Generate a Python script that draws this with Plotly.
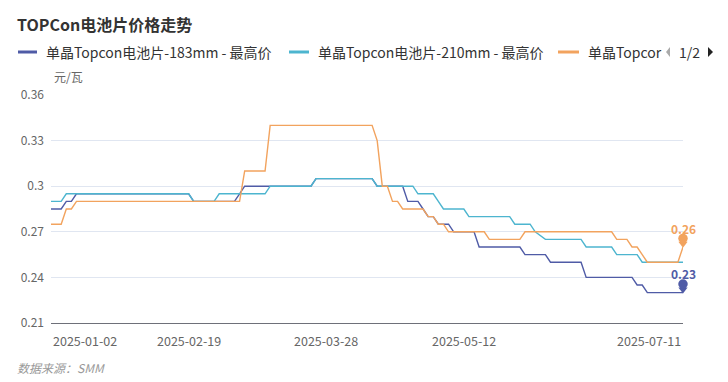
import plotly.graph_objects as go

# ---------------- data ----------------
dates = [
    "2025-01-02", "2025-01-03", "2025-01-06", "2025-01-07", "2025-01-08", "2025-01-09", "2025-01-10", "2025-01-13", "2025-01-14", "2025-01-15",
    "2025-01-16", "2025-01-17", "2025-01-20", "2025-01-21", "2025-01-22", "2025-01-23", "2025-01-24", "2025-02-05", "2025-02-06", "2025-02-07",
    "2025-02-10", "2025-02-11", "2025-02-12", "2025-02-13", "2025-02-14", "2025-02-17", "2025-02-18", "2025-02-19", "2025-02-20", "2025-02-21",
    "2025-02-24", "2025-02-25", "2025-02-26", "2025-02-27", "2025-02-28", "2025-03-03", "2025-03-04", "2025-03-05", "2025-03-06", "2025-03-07",
    "2025-03-10", "2025-03-11", "2025-03-12", "2025-03-13", "2025-03-14", "2025-03-17", "2025-03-18", "2025-03-19", "2025-03-20", "2025-03-21",
    "2025-03-24", "2025-03-25", "2025-03-26", "2025-03-27", "2025-03-28", "2025-03-31", "2025-04-01", "2025-04-02", "2025-04-03", "2025-04-07",
    "2025-04-08", "2025-04-09", "2025-04-10", "2025-04-11", "2025-04-14", "2025-04-15", "2025-04-16", "2025-04-17", "2025-04-18", "2025-04-21",
    "2025-04-22", "2025-04-23", "2025-04-24", "2025-04-25", "2025-04-28", "2025-04-29", "2025-04-30", "2025-05-06", "2025-05-07", "2025-05-08",
    "2025-05-09", "2025-05-12", "2025-05-13", "2025-05-14", "2025-05-15", "2025-05-16", "2025-05-19", "2025-05-20", "2025-05-21", "2025-05-22",
    "2025-05-23", "2025-05-26", "2025-05-27", "2025-05-28", "2025-05-29", "2025-05-30", "2025-06-03", "2025-06-04", "2025-06-05", "2025-06-06",
    "2025-06-09", "2025-06-10", "2025-06-11", "2025-06-12", "2025-06-13", "2025-06-16", "2025-06-17", "2025-06-18", "2025-06-19", "2025-06-20",
    "2025-06-23", "2025-06-24", "2025-06-25", "2025-06-26", "2025-06-27", "2025-06-30", "2025-07-01", "2025-07-02", "2025-07-03", "2025-07-04",
    "2025-07-07", "2025-07-08", "2025-07-09", "2025-07-10", "2025-07-11",
]

price_183 = [
    0.285, 0.285, 0.285, 0.29, 0.29, 0.295, 0.295, 0.295, 0.295, 0.295,
    0.295, 0.295, 0.295, 0.295, 0.295, 0.295, 0.295, 0.295, 0.295, 0.295,
    0.295, 0.295, 0.295, 0.295, 0.295, 0.295, 0.295, 0.295, 0.29, 0.29,
    0.29, 0.29, 0.29, 0.29, 0.29, 0.29, 0.29, 0.295, 0.30, 0.30,
    0.30, 0.30, 0.30, 0.30, 0.30, 0.30, 0.30, 0.30, 0.30, 0.30,
    0.30, 0.30, 0.305, 0.305, 0.305, 0.305, 0.305, 0.305, 0.305, 0.305,
    0.305, 0.305, 0.305, 0.305, 0.30, 0.30, 0.30, 0.30, 0.30, 0.30,
    0.29, 0.29, 0.29, 0.285, 0.28, 0.28, 0.275, 0.275, 0.275, 0.27,
    0.27, 0.27, 0.27, 0.27, 0.26, 0.26, 0.26, 0.26, 0.26, 0.26,
    0.26, 0.26, 0.26, 0.255, 0.255, 0.255, 0.255, 0.255, 0.25, 0.25,
    0.25, 0.25, 0.25, 0.25, 0.25, 0.24, 0.24, 0.24, 0.24, 0.24,
    0.24, 0.24, 0.24, 0.24, 0.24, 0.235, 0.235, 0.23, 0.23, 0.23,
    0.23, 0.23, 0.23, 0.23, 0.23,
]

price_210 = [
    0.29, 0.29, 0.29, 0.295, 0.295, 0.295, 0.295, 0.295, 0.295, 0.295,
    0.295, 0.295, 0.295, 0.295, 0.295, 0.295, 0.295, 0.295, 0.295, 0.295,
    0.295, 0.295, 0.295, 0.295, 0.295, 0.295, 0.295, 0.295, 0.29, 0.29,
    0.29, 0.29, 0.29, 0.295, 0.295, 0.295, 0.295, 0.295, 0.295, 0.295,
    0.295, 0.295, 0.295, 0.30, 0.30, 0.30, 0.30, 0.30, 0.30, 0.30,
    0.30, 0.30, 0.305, 0.305, 0.305, 0.305, 0.305, 0.305, 0.305, 0.305,
    0.305, 0.305, 0.305, 0.305, 0.30, 0.30, 0.30, 0.30, 0.30, 0.30,
    0.30, 0.30, 0.295, 0.295, 0.295, 0.295, 0.29, 0.285, 0.285, 0.285,
    0.285, 0.285, 0.28, 0.28, 0.28, 0.28, 0.28, 0.28, 0.28, 0.28,
    0.28, 0.275, 0.275, 0.275, 0.275, 0.27, 0.2675, 0.265, 0.265, 0.265,
    0.265, 0.265, 0.265, 0.265, 0.265, 0.26, 0.26, 0.26, 0.26, 0.26,
    0.26, 0.255, 0.255, 0.255, 0.255, 0.255, 0.25, 0.25, 0.25, 0.25,
    0.25, 0.25, 0.25, 0.25, 0.25,
]

price_3 = [
    0.275, 0.275, 0.275, 0.285, 0.285, 0.29, 0.29, 0.29, 0.29, 0.29,
    0.29, 0.29, 0.29, 0.29, 0.29, 0.29, 0.29, 0.29, 0.29, 0.29,
    0.29, 0.29, 0.29, 0.29, 0.29, 0.29, 0.29, 0.29, 0.29, 0.29,
    0.29, 0.29, 0.29, 0.29, 0.29, 0.29, 0.29, 0.29, 0.31, 0.31,
    0.31, 0.31, 0.31, 0.34, 0.34, 0.34, 0.34, 0.34, 0.34, 0.34,
    0.34, 0.34, 0.34, 0.34, 0.34, 0.34, 0.34, 0.34, 0.34, 0.34,
    0.34, 0.34, 0.34, 0.34, 0.33, 0.30, 0.30, 0.29, 0.29, 0.285,
    0.285, 0.285, 0.285, 0.285, 0.28, 0.28, 0.275, 0.275, 0.27, 0.27,
    0.27, 0.27, 0.27, 0.27, 0.27, 0.27, 0.265, 0.265, 0.265, 0.265,
    0.265, 0.265, 0.265, 0.27, 0.27, 0.27, 0.27, 0.27, 0.27, 0.27,
    0.27, 0.27, 0.27, 0.27, 0.27, 0.27, 0.27, 0.27, 0.27, 0.27,
    0.27, 0.265, 0.265, 0.265, 0.26, 0.26, 0.255, 0.25, 0.25, 0.25,
    0.25, 0.25, 0.25, 0.25, 0.26,
]

series_names = [
    "单晶Topcon电池片-183mm - 最高价",
    "单晶Topcon电池片-210mm - 最高价",
    "单晶Topcon电池片-210R - 最高价",
]
legend_texts = ["单晶Topcon电池片-183mm - 最高价", "单晶Topcon电池片-210mm - 最高价", "单晶Topcor"]
x_tick_labels = ["2025-01-02", "2025-02-19", "2025-03-28", "2025-05-12", "2025-07-11"]
y_tick_vals = [0.21, 0.24, 0.27, 0.30, 0.33, 0.36]
y_tick_text = ["0.21", "0.24", "0.27", "0.3", "0.33", "0.36"]
end_labels = ["0.23", None, "0.26"]

# ---------------- style ----------------
colors = ["#4f5ba6", "#4db5cf", "#f2a35e"]
FONT = "Noto Sans CJK SC, Noto Sans, sans-serif"
W, H = 728, 382
L, R, T, B = 51, 683, 95, 323
Y0, Y1 = 0.21, 0.36
UNIT_PER_PX = (Y1 - Y0) / (B - T)


def px2x(px):
    return (px - L) / (R - L)


def py2y(py):
    return (B - py) / (B - T)


fig = go.Figure()
all_series = [price_183, price_210, price_3]
for name, vals, col in zip(series_names, all_series, colors):
    fig.add_trace(go.Scatter(
        x=dates, y=vals, name=name, mode="lines",
        line=dict(color=col, width=1.4),
        showlegend=False,
    ))

annotations = []
shapes = []

# end-point pins (pin = triangle tip at the point + circle head above) and labels
for vals, col, lab in zip(all_series, colors, end_labels):
    if lab is None:
        continue
    xe, ye = dates[-1], vals[-1]
    fig.add_trace(go.Scatter(
        x=[xe], y=[ye + 3.2 * UNIT_PER_PX], mode="markers", cliponaxis=False,
        marker=dict(symbol="triangle-down", size=8, color=col, line=dict(width=0)),
        showlegend=False, hoverinfo="skip"))
    fig.add_trace(go.Scatter(
        x=[xe], y=[ye + 8.6 * UNIT_PER_PX], mode="markers", cliponaxis=False,
        marker=dict(symbol="circle", size=9.5, color=col, line=dict(width=0)),
        showlegend=False, hoverinfo="skip"))
    annotations.append(dict(text="<b>%s</b>" % lab, xref="x", yref="y", x=xe, y=ye,
                            yshift=19, xanchor="center", yanchor="middle", showarrow=False,
                            font=dict(size=12, color=col, family=FONT)))

# title
annotations.append(dict(text="<b>TOPCon电池片价格走势</b>", xref="paper", yref="paper",
                        x=px2x(15), y=py2y(24), xanchor="left", yanchor="middle",
                        showarrow=False, font=dict(size=16, color="#333333", family=FONT)))

# legend (custom, mimicking the paged legend)
leg_y = 52
sym_x = [(18, 37), (289, 309), (558, 579)]
txt_x = [44, 316, 586]
for (a, b), tx, txt, col in zip(sym_x, txt_x, legend_texts, colors):
    shapes.append(dict(type="line", xref="paper", yref="paper",
                       x0=px2x(a), x1=px2x(b), y0=py2y(leg_y), y1=py2y(leg_y),
                       line=dict(color=col, width=3)))
    annotations.append(dict(text=txt, xref="paper", yref="paper", x=px2x(tx), y=py2y(leg_y),
                            xanchor="left", yanchor="middle", showarrow=False,
                            font=dict(size=14, color="#333333", family=FONT)))
shapes.append(dict(type="path", xref="paper", yref="paper",
                   path="M {a},{b} L {c},{d} L {c},{e} Z".format(
                       a=px2x(666), b=py2y(leg_y), c=px2x(670), d=py2y(leg_y - 5), e=py2y(leg_y + 5)),
                   fillcolor="#aaaaaa", line=dict(width=0)))
shapes.append(dict(type="path", xref="paper", yref="paper",
                   path="M {a},{b} L {c},{d} L {c},{e} Z".format(
                       a=px2x(713), b=py2y(leg_y), c=px2x(708), d=py2y(leg_y - 5), e=py2y(leg_y + 5)),
                   fillcolor="#222222", line=dict(width=0)))
annotations.append(dict(text="1/2", xref="paper", yref="paper", x=px2x(689), y=py2y(leg_y),
                        xanchor="center", yanchor="middle", showarrow=False,
                        font=dict(size=14, color="#333333", family=FONT)))

# y-axis unit
annotations.append(dict(text="元/瓦", xref="paper", yref="paper", x=px2x(52), y=py2y(76),
                        xanchor="left", yanchor="middle", showarrow=False,
                        font=dict(size=12, color="#666666", family=FONT)))

# x tick labels (first left-aligned, last right-aligned, like the reference)
for i, lab in enumerate(x_tick_labels):
    anchor = "left" if i == 0 else ("right" if i == len(x_tick_labels) - 1 else "center")
    annotations.append(dict(text=lab, xref="x", yref="paper", x=lab, y=0,
                            xanchor=anchor, yanchor="top", yshift=-6, showarrow=False,
                            font=dict(size=12.5, color="#666666", family=FONT)))

# source
annotations.append(dict(text="<i>数据来源：SMM</i>", xref="paper", yref="paper", x=px2x(15), y=py2y(367),
                        xanchor="left", yanchor="middle", showarrow=False,
                        font=dict(size=12, color="#999999", family=FONT)))

fig.update_layout(
    width=W, height=H,
    margin=dict(l=L, r=W - R, t=T, b=H - B, pad=0),
    paper_bgcolor="white", plot_bgcolor="white",
    font=dict(family=FONT, size=12, color="#666666"),
    xaxis=dict(type="category", range=[0, len(dates) - 1], showgrid=False,
               showline=True, linecolor="#6e7079", linewidth=1,
               ticks="", showticklabels=False, zeroline=False, fixedrange=True),
    yaxis=dict(range=[Y0, Y1], tickvals=y_tick_vals, ticktext=y_tick_text,
               showgrid=True, gridcolor="#e0e6f1", gridwidth=1, zeroline=False,
               showline=False, ticks="", ticklabelstandoff=6,
               tickfont=dict(size=12, color="#666666", family=FONT)),
    annotations=annotations,
    shapes=shapes,
    hovermode="x",
)

fig.write_html("out.html", config={"displayModeBar": False},
               post_script="document.body.style.margin='0';document.body.style.padding='0';")
